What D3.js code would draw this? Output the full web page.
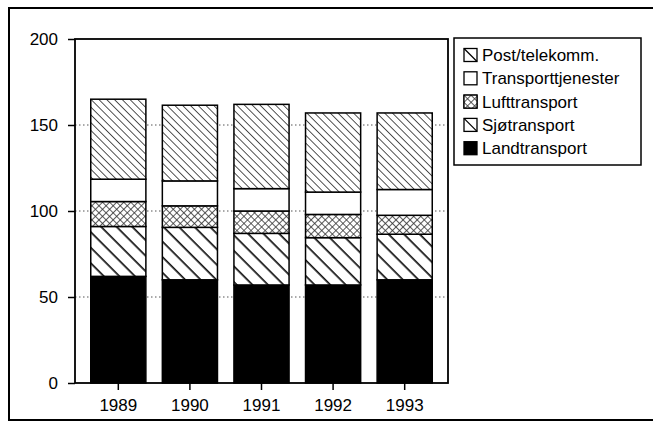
<!DOCTYPE html>
<html>
<head>
<meta charset="utf-8">
<script src="https://cdn.jsdelivr.net/npm/d3@7"></script>
<style>
  body { margin: 0; background: #fff; }
  svg { display: block; font-family: "Liberation Sans", Arial, sans-serif; }
</style>
</head>
<body>
<div id="chart"></div>
<script>
// data ////////////////////////////
var years = ['1989', '1990', '1991', '1992', '1993'];
var landtransport = [62, 60, 57, 57, 60];
var sjotransport = [29, 30.5, 30, 27.5, 26.5];
var lufttransport = [14.5, 12.5, 13, 13.5, 11];
var transporttjenester = [13, 14.5, 13, 13, 15];
var posttelekomm = [46.5, 44, 49, 46, 44.5];
var yTicks = [0, 50, 100, 150, 200];

var seriesNames = ['Landtransport', 'Sjøtransport', 'Lufttransport', 'Transporttjenester', 'Post/telekomm.'];
var seriesKeys = ['land', 'sjo', 'luft', 'transp', 'post'];
var fills = {land: '#000', sjo: 'url(#p-sjo)', luft: 'url(#p-luft)', transp: '#fff', post: 'url(#p-post)'};

var rows = years.map(function(y, i) {
    return {year: y, land: landtransport[i], sjo: sjotransport[i], luft: lufttransport[i],
            transp: transporttjenester[i], post: posttelekomm[i]};
});

// setup ///////////////////////////
var W = 653, H = 425;
var plot = {left: 75, right: 448, top: 39, bottom: 383};

var svg = d3.select('#chart').append('svg')
    .attr('width', W).attr('height', H);

// patterns (lines running top-left to bottom-right)
var defs = svg.append('defs');
var p1 = defs.append('pattern').attr('id', 'p-sjo').attr('patternUnits', 'userSpaceOnUse')
    .attr('width', 11).attr('height', 11).attr('patternTransform', 'rotate(45)');
p1.append('rect').attr('width', 11).attr('height', 11).attr('fill', '#fff');
p1.append('line').attr('x1', 0).attr('y1', 0).attr('x2', 11).attr('y2', 0)
    .attr('stroke', '#111').attr('stroke-width', 3.4);

var p2 = defs.append('pattern').attr('id', 'p-post').attr('patternUnits', 'userSpaceOnUse')
    .attr('width', 5.5).attr('height', 5.5).attr('patternTransform', 'rotate(45)');
p2.append('rect').attr('width', 5.5).attr('height', 5.5).attr('fill', '#fff');
p2.append('line').attr('x1', 0).attr('y1', 0).attr('x2', 5.5).attr('y2', 0)
    .attr('stroke', '#444').attr('stroke-width', 1.8);

var p3 = defs.append('pattern').attr('id', 'p-luft').attr('patternUnits', 'userSpaceOnUse')
    .attr('width', 5).attr('height', 5).attr('patternTransform', 'rotate(45)');
p3.append('rect').attr('width', 5).attr('height', 5).attr('fill', '#fff');
p3.append('line').attr('x1', 0).attr('y1', 0).attr('x2', 5).attr('y2', 0)
    .attr('stroke', '#333').attr('stroke-width', 1.6);
p3.append('line').attr('x1', 0).attr('y1', 0).attr('x2', 0).attr('y2', 5)
    .attr('stroke', '#333').attr('stroke-width', 1.6);

// outer frame
svg.append('rect').attr('x', 9).attr('y', 8).attr('width', 660).attr('height', 412)
    .attr('fill', 'none').attr('stroke', '#000').attr('stroke-width', 2);

// scales
var x = d3.scaleBand().domain(years).range([plot.left, plot.right])
    .paddingInner(0.23).paddingOuter(0.22);
var y = d3.scaleLinear().domain([0, 200]).range([plot.bottom, plot.top]);

// grid
svg.append('g').selectAll('line').data([50, 100, 150]).enter().append('line')
    .attr('x1', plot.left).attr('x2', plot.right)
    .attr('y1', function(d) { return y(d); }).attr('y2', function(d) { return y(d); })
    .attr('stroke', '#555').attr('stroke-width', 1).attr('stroke-dasharray', '1.5,2.5');

// bars
var stack = d3.stack().keys(seriesKeys)(rows);
svg.append('g').selectAll('g').data(stack).enter().append('g')
    .attr('fill', function(d) { return fills[d.key]; })
    .selectAll('rect').data(function(d) { return d; }).enter().append('rect')
    .attr('x', function(d) { return x(d.data.year); })
    .attr('width', x.bandwidth())
    .attr('y', function(d) { return y(d[1]); })
    .attr('height', function(d) { return y(d[0]) - y(d[1]); })
    .attr('stroke', '#000').attr('stroke-width', 1.5);

// plot frame
svg.append('rect').attr('x', plot.left).attr('y', plot.top)
    .attr('width', plot.right - plot.left).attr('height', plot.bottom - plot.top)
    .attr('fill', 'none').attr('stroke', '#000').attr('stroke-width', 1.8);

// axes
var yAxis = d3.axisLeft(y).tickValues(yTicks).tickSize(7).tickPadding(10);
var gy = svg.append('g').attr('transform', 'translate(' + plot.left + ',0)').call(yAxis);
var xAxis = d3.axisBottom(x).tickSize(7).tickPadding(9);
var gx = svg.append('g').attr('transform', 'translate(0,' + plot.bottom + ')').call(xAxis);
[gy, gx].forEach(function(g) {
    g.select('.domain').remove();
    g.selectAll('line').attr('stroke', '#000').attr('stroke-width', 1.5);
    g.selectAll('text').attr('fill', '#000').style('font-size', '17px')
        .style('font-family', '"Liberation Sans", Arial, sans-serif');
});

// legend
var leg = svg.append('g');
leg.append('rect').attr('x', 454).attr('y', 38).attr('width', 187).attr('height', 127)
    .attr('fill', '#fff').attr('stroke', '#000').attr('stroke-width', 1.5);
var legKeys = seriesKeys.slice().reverse();
var legNames = seriesNames.slice().reverse();
var li = leg.selectAll('g.item').data(legKeys).enter().append('g')
    .attr('transform', function(d, i) { return 'translate(464,' + (55 + i * 23.3) + ')'; });
li.append('rect').attr('x', 0).attr('y', -6.5).attr('width', 13).attr('height', 13)
    .attr('fill', function(d) { return d === 'post' || d === 'sjo' ? '#fff' : fills[d]; })
    .attr('stroke', '#000').attr('stroke-width', 1.3);
li.filter(function(d) { return d === 'post' || d === 'sjo'; }).append('line')
    .attr('x1', 0).attr('y1', -6.5).attr('x2', 13).attr('y2', 6.5)
    .attr('stroke', '#000').attr('stroke-width', 1.3);
li.filter(function(d) { return d === 'luft'; }).append('rect')
    .attr('x', 0).attr('y', -6.5).attr('width', 13).attr('height', 13)
    .attr('fill', 'url(#p-luft)').attr('stroke', '#000').attr('stroke-width', 1.3);
li.append('text').attr('x', 18).attr('y', 0).attr('dy', '0.35em')
    .style('font-size', '17px').attr('fill', '#000')
    .text(function(d, i) { return legNames[i]; });
</script>
</body>
</html>
